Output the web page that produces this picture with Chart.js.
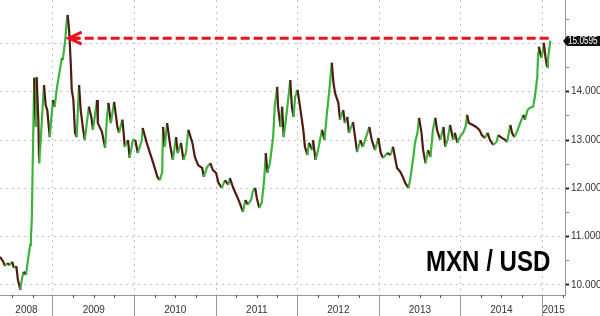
<!DOCTYPE html>
<html>
<head>
<meta charset="utf-8">
<script src="https://cdn.jsdelivr.net/npm/chart.js@4.4.1/dist/chart.umd.min.js"></script>
<style>
  html, body { margin: 0; padding: 0; background: #fff; }
  #wrap { width: 600px; height: 316px; position: relative; }
</style>
</head>
<body>
<div id="wrap"><canvas id="fx"></canvas></div>
<script>
// MXN per USD (decimal year -> rate)
const dates = [
  2008.35,2008.39,2008.41,2008.44,2008.47,2008.50,2008.52,2008.55,2008.57,2008.60,
  2008.62,2008.64,2008.67,2008.69,2008.72,2008.73,2008.74,2008.75,2008.77,2008.78,
  2008.79,2008.80,2008.82,2008.83,2008.85,2008.87,2008.89,2008.91,2008.93,2008.96,
  2009.00,2009.02,2009.05,2009.09,2009.11,2009.12,2009.15,2009.17,2009.18,2009.20,
  2009.22,2009.23,2009.25,2009.27,2009.29,2009.32,2009.34,2009.37,2009.39,2009.42,
  2009.44,2009.47,2009.49,2009.54,2009.55,2009.60,2009.64,2009.66,2009.68,2009.71,
  2009.75,2009.79,2009.81,2009.85,2009.86,2009.88,2009.92,2009.94,2009.98,2010.01,
  2010.04,2010.09,2010.10,2010.15,2010.19,2010.23,2010.28,2010.31,2010.34,2010.35,
  2010.37,2010.40,2010.44,2010.47,2010.51,2010.53,2010.57,2010.60,2010.63,2010.66,
  2010.71,2010.74,2010.78,2010.83,2010.85,2010.89,2010.93,2010.96,2011.00,2011.03,
  2011.07,2011.11,2011.15,2011.17,2011.21,2011.26,2011.29,2011.33,2011.36,2011.39,
  2011.43,2011.45,2011.48,2011.50,2011.53,2011.56,2011.59,2011.61,2011.63,2011.66,
  2011.70,2011.72,2011.75,2011.76,2011.79,2011.81,2011.83,2011.87,2011.88,2011.91,
  2011.93,2011.95,2011.97,2012.00,2012.03,2012.07,2012.09,2012.12,2012.14,2012.18,
  2012.19,2012.22,2012.25,2012.30,2012.33,2012.36,2012.39,2012.42,2012.44,2012.46,
  2012.50,2012.52,2012.56,2012.58,2012.61,2012.63,2012.68,2012.71,2012.73,2012.77,
  2012.80,2012.84,2012.88,2012.91,2012.95,2012.99,2013.02,2013.05,2013.10,2013.14,
  2013.17,2013.20,2013.22,2013.26,2013.29,2013.32,2013.36,2013.38,2013.42,2013.44,
  2013.47,2013.49,2013.52,2013.54,2013.57,2013.60,2013.63,2013.66,2013.69,2013.71,
  2013.75,2013.79,2013.81,2013.84,2013.87,2013.91,2013.93,2013.96,2013.99,2014.03,
  2014.06,2014.08,2014.10,2014.15,2014.19,2014.23,2014.26,2014.30,2014.33,2014.36,
  2014.40,2014.44,2014.46,2014.51,2014.55,2014.57,2014.61,2014.63,2014.66,2014.69,
  2014.73,2014.77,2014.79,2014.82,2014.85,2014.89,2014.91,2014.94,2014.95,2014.96,
  2014.99,2015.01,2015.02,2015.04,2015.06,2015.07,2015.10
];
const rates = [
  10.58,10.48,10.39,10.45,10.41,10.48,10.35,10.39,10.10,9.90,
  10.14,10.27,10.21,10.48,10.83,11.01,11.34,12.38,14.29,13.62,
  13.27,14.30,13.42,12.52,13.00,13.62,14.14,13.72,13.62,13.06,
  13.83,13.69,14.10,14.51,14.70,14.66,15.07,15.49,15.59,15.22,
  14.51,14.04,13.83,13.15,13.06,14.14,13.62,13.21,13.00,13.42,
  13.69,13.48,13.21,13.83,13.35,13.17,12.84,13.42,13.77,13.35,
  13.79,13.27,13.15,13.42,13.27,12.86,13.00,12.63,13.00,13.00,
  12.73,13.00,13.25,12.94,12.73,12.52,12.24,12.17,12.34,13.27,
  12.86,13.35,12.86,12.59,13.06,12.73,12.94,12.59,12.73,13.21,
  12.94,12.65,12.48,12.42,12.24,12.44,12.52,12.38,12.32,12.11,
  12.01,12.17,12.07,12.21,12.01,11.82,11.70,11.51,11.76,11.66,
  11.76,11.93,12.01,11.80,11.59,11.70,12.17,12.73,12.32,12.52,
  13.06,13.69,14.10,13.69,13.27,13.69,13.06,13.62,13.77,14.24,
  13.69,13.48,13.89,14.04,13.69,13.21,12.86,12.69,12.94,12.79,
  13.00,12.59,12.79,13.21,13.00,13.56,14.04,14.60,14.18,13.97,
  13.77,13.42,13.62,13.35,13.48,13.15,13.37,13.00,12.75,13.00,
  12.86,13.06,13.27,13.00,12.79,13.04,12.73,12.63,12.73,12.69,
  12.86,12.59,12.42,12.34,12.24,12.11,12.01,12.17,12.65,12.94,
  13.15,13.46,13.15,12.79,12.52,12.79,12.65,13.21,13.46,13.21,
  13.00,13.27,12.86,13.00,13.31,13.00,13.15,12.94,13.06,13.15,
  13.27,13.52,13.35,13.31,13.27,13.21,13.10,13.04,13.15,13.00,
  12.90,12.96,13.10,13.04,13.00,12.96,13.31,13.15,13.06,13.17,
  13.35,13.52,13.42,13.62,13.67,13.69,13.89,14.30,14.80,14.93,
  14.70,14.86,15.01,14.72,14.51,14.66,15.0595
];
const yearLabels = ['2008', '2009', '2010', '2011', '2012', '2013', '2014', '2015'];
const yLabelValues = [10, 11, 12, 13, 14, 15];
const lastQuote = 15.0595;
const peakLevel = 15.11;            // red dashed line level
const arrowFrom = 2009.18, arrowTo = 2015.10;
const chartTitle = 'MXN / USD';

const X_MIN = 2008.35, X_MAX = 2015.28;
const Y_MIN = 9.79, Y_MAX = 15.9;
const UP = '#3cb43c', DOWN = '#4e1c14', RED = '#e8141b';
const SANS = "'Liberation Sans', Arial, sans-serif";

// narrow text: no condensed face installed, so squeeze horizontally
function narrowText(ctx, text, x, y, squeeze) {
  ctx.save();
  ctx.translate(x, y);
  ctx.scale(squeeze, 1);
  ctx.fillText(text, 0, 0);
  ctx.restore();
}

const decor = {
  id: 'decor',
  afterDraw(chart) {
    const { ctx, chartArea: ca, scales: { x, y } } = chart;
    ctx.save();

    // small quarter ticks under the axis
    ctx.strokeStyle = '#555';
    ctx.lineWidth = 1;
    x.ticks.forEach(t => {
      if (Number.isInteger(t.value)) return;
      const px = Math.round(x.getPixelForValue(t.value)) + 0.5;
      ctx.beginPath(); ctx.moveTo(px, ca.bottom); ctx.lineTo(px, ca.bottom + 3); ctx.stroke();
    });

    // year labels centred in the visible part of each year
    ctx.fillStyle = '#333';
    ctx.font = "10px " + SANS;
    ctx.textAlign = 'center';
    ctx.textBaseline = 'middle';
    yearLabels.forEach(lbl => {
      const y0 = Math.max(+lbl, X_MIN), y1 = Math.min(+lbl + 1, X_MAX);
      const cx = (x.getPixelForValue(y0) + x.getPixelForValue(y1)) / 2;
      ctx.fillText(lbl, cx, ca.bottom + 15);
    });

    // arrow head on the peak
    const ax = x.getPixelForValue(arrowFrom), ay = y.getPixelForValue(peakLevel);
    ctx.strokeStyle = RED;
    ctx.lineWidth = 3;
    ctx.beginPath();
    ctx.moveTo(ax + 14, ay - 6); ctx.lineTo(ax + 1, ay); ctx.lineTo(ax + 14, ay + 6);
    ctx.stroke();
    ctx.beginPath(); ctx.moveTo(ax + 2, ay); ctx.lineTo(ax + 12, ay); ctx.stroke();

    // title
    ctx.fillStyle = '#000';
    ctx.font = "bold 29px " + SANS;
    ctx.textAlign = 'left';
    ctx.textBaseline = 'alphabetic';
    narrowText(ctx, chartTitle, 426, 271, 0.83);

    // last quote tag on the right axis
    const qy = Math.round(y.getPixelForValue(lastQuote));
    const qx = ca.right + 2;
    ctx.fillStyle = '#111';
    ctx.beginPath();
    ctx.moveTo(qx - 4, qy);
    ctx.lineTo(qx, qy - 5);
    ctx.lineTo(chart.width, qy - 5);
    ctx.lineTo(chart.width, qy + 5);
    ctx.lineTo(qx, qy + 5);
    ctx.closePath();
    ctx.fill();
    ctx.fillStyle = '#fff';
    ctx.font = "10px " + SANS;
    ctx.textBaseline = 'middle';
    narrowText(ctx, lastQuote.toFixed(4), qx + 1, qy + 0.5, 0.82);

    ctx.restore();
  }
};

new Chart(document.getElementById('fx'), {
  type: 'line',
  data: {
    datasets: [{
      label: 'MXN/USD',
      data: dates.map((d, i) => ({ x: d, y: rates[i] })),
      borderWidth: 2.2,
      pointRadius: 0,
      tension: 0,
      borderColor: DOWN,
      segment: {
        borderColor: c => c.p1.parsed.y >= c.p0.parsed.y ? UP : DOWN
      }
    }, {
      label: 'peak',
      data: [{ x: arrowFrom, y: peakLevel }, { x: arrowTo, y: peakLevel }],
      borderColor: RED,
      borderWidth: 3,
      borderDash: [9, 4],
      borderDashOffset: -4,
      pointRadius: 0
    }]
  },
  options: {
    responsive: true,
    maintainAspectRatio: false,
    animation: false,
    layout: { padding: 0 },
    plugins: { legend: { display: false }, tooltip: { enabled: false } },
    scales: {
      x: {
        type: 'linear',
        min: X_MIN,
        max: X_MAX,
        afterBuildTicks: s => {
          const t = [];
          for (let q = 2008.5; q <= X_MAX; q += 0.25) t.push({ value: q });
          s.ticks = t;
        },
        afterFit: s => { s.height = 21; s.paddingLeft = 0; s.paddingRight = 0; },
        ticks: { callback: () => '', maxRotation: 0, autoSkip: false },
        grid: {
          color: c => Number.isInteger(c.tick.value) ? '#c4c4c4' : 'rgba(0,0,0,0)',
          tickColor: c => Number.isInteger(c.tick.value) ? '#999' : 'rgba(0,0,0,0)',
          tickLength: 21,
          tickBorderDash: [],
          lineWidth: 1
        },
        border: { display: true, color: '#999', dash: [2, 4] }
      },
      y: {
        position: 'right',
        min: Y_MIN,
        max: Y_MAX,
        afterBuildTicks: s => {
          const t = [];
          for (let v = 10; v <= 15.5; v += 0.5) t.push({ value: v });
          s.ticks = t;
        },
        afterFit: s => { s.width = 35; s.paddingTop = 0; s.paddingBottom = 0; },
        ticks: {
          padding: 2,
          color: '#333',
          font: { family: SANS, size: 10 },
          callback: v => yLabelValues.includes(v) ? v.toFixed(4) : ''
        },
        grid: {
          color: c => c.tick && yLabelValues.includes(c.tick.value) ? '#c4c4c4' : 'rgba(0,0,0,0)',
          tickColor: c => c.tick && yLabelValues.includes(c.tick.value) ? '#222' : '#888',
          tickWidth: c => c.tick && yLabelValues.includes(c.tick.value) ? 2 : 1,
          tickLength: 4,
          tickBorderDash: []
        },
        border: { display: true, color: '#999', dash: [2, 4] }
      }
    }
  },
  plugins: [decor]
});
</script>
</body>
</html>
